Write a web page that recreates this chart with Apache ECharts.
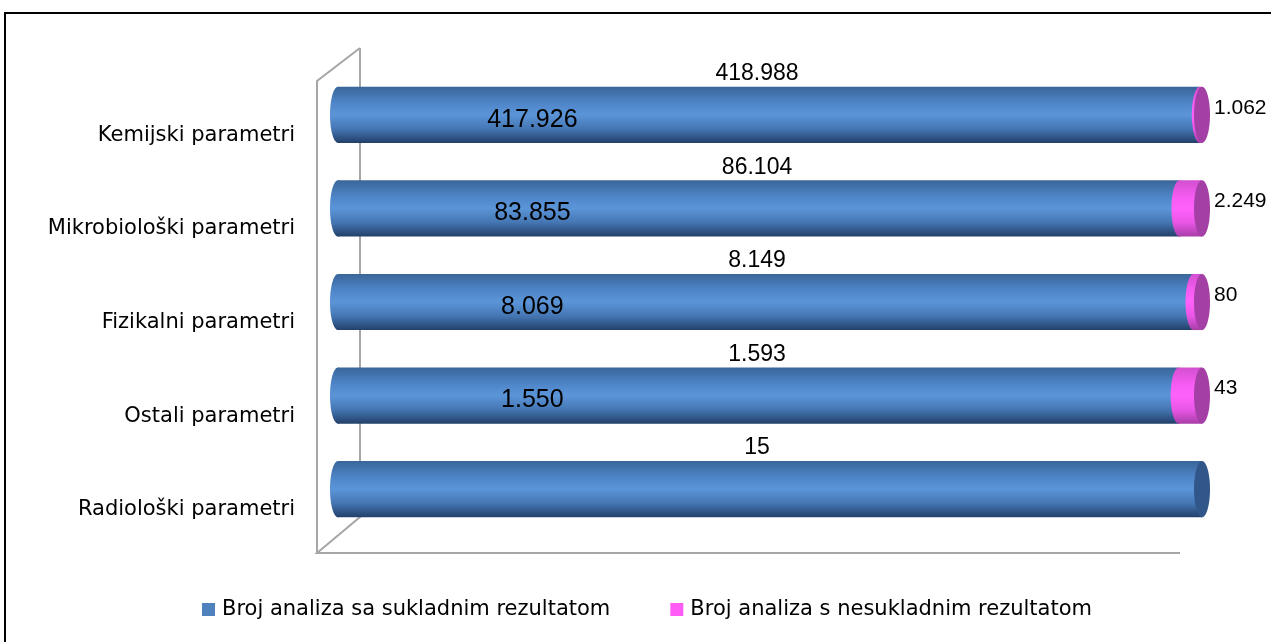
<!DOCTYPE html>
<html>
<head>
<meta charset="utf-8">
<script src="https://cdn.jsdelivr.net/npm/echarts@6/dist/echarts.min.js"></script>
<style>
  html, body { margin: 0; padding: 0; background: #fff; }
  #chart { width: 1271px; height: 642px; }
</style>
</head>
<body>
<div id="chart"></div>
<script>
// podaci
const categories = ['Kemijski parametri', 'Mikrobiološki parametri', 'Fizikalni parametri', 'Ostali parametri', 'Radiološki parametri'];
const sukladni = [417926, 83855, 8069, 1550, 15];
const nesukladni = [1062, 2249, 80, 43, 0];
const ukupno = [418988, 86104, 8149, 1593, 15];
const seriesNames = ['Broj analiza sa sukladnim rezultatom', 'Broj analiza s nesukladnim rezultatom'];

const FONT = 'DejaVu Sans';
const NUMFONT = 'Liberation Sans';

function fmt(n) {
  return String(n).replace(/\B(?=(\d{3})+(?!\d))/g, '.');
}

// 100% stacked -> udjeli
const blueData = sukladni.map((v, i) => [0, v / ukupno[i], i]);
const pinkData = nesukladni.map((v, i) => [sukladni[i] / ukupno[i], 1, i]);

function blueGrad() {
  return new echarts.graphic.LinearGradient(0, 0, 0, 1, [
    { offset: 0, color: '#3a6599' },
    { offset: 0.3, color: '#4f86c9' },
    { offset: 0.5, color: '#5b95d8' },
    { offset: 0.75, color: '#4576b3' },
    { offset: 1, color: '#22406a' }
  ]);
}
function pinkGrad() {
  return new echarts.graphic.LinearGradient(0, 0, 0, 1, [
    { offset: 0, color: '#d24fd0' },
    { offset: 0.3, color: '#f75cf2' },
    { offset: 0.5, color: '#ff62fa' },
    { offset: 0.75, color: '#e956e6' },
    { offset: 1, color: '#a83ea8' }
  ]);
}

const RX = 8;

const chart = echarts.init(document.getElementById('chart'));
chart.setOption({
  animation: false,
  grid: { left: 338, right: 69, top: 68, bottom: 106 },
  xAxis: { type: 'value', min: 0, max: 1, show: false },
  yAxis: {
    type: 'category',
    data: categories,
    inverse: true,
    axisLine: { show: false },
    axisTick: { show: false },
    splitLine: { show: false },
    axisLabel: { color: '#000', fontSize: 21, fontFamily: FONT, margin: 43, verticalAlign: 'top', padding: [10, 0, 0, 0] }
  },
  legend: {
    left: 197,
    top: 594,
    icon: 'rect',
    itemWidth: 13,
    itemHeight: 13,
    itemGap: 60,
    textStyle: { color: '#000', fontSize: 21, fontFamily: FONT, padding: [0, 0, 0, 2] },
    data: seriesNames
  },
  graphic: [
    { type: 'rect', shape: { x: 5, y: 13, width: 1400, height: 800 }, style: { fill: 'none', stroke: '#000', lineWidth: 2 }, z: -1 },
    { type: 'polyline', shape: { points: [[360, 48], [360, 517], [317, 553], [1180, 553]] }, style: { fill: 'none', stroke: '#a6a6a6', lineWidth: 2 }, z: -1 },
    { type: 'polyline', shape: { points: [[360, 48], [317, 81], [317, 553]] }, style: { fill: 'none', stroke: '#a6a6a6', lineWidth: 2 }, z: -1 }
  ],
  series: [
    {
      name: seriesNames[0],
      type: 'custom',
      clip: false,
      itemStyle: { color: '#4f81bd' },
      encode: { x: [0, 1], y: 2 },
      data: blueData,
      renderItem: function (params, api) {
        const i = api.value(2);
        const p0 = api.coord([api.value(0), i]);
        const p1 = api.coord([api.value(1), i]);
        const h = api.size([0, 1])[1] * 0.6;
        const cy = p0[1];
        const children = [
          { type: 'ellipse', shape: { cx: p0[0], cy: cy, rx: RX, ry: h / 2 }, style: { fill: blueGrad() } },
          { type: 'rect', shape: { x: p0[0], y: cy - h / 2, width: p1[0] - p0[0], height: h }, style: { fill: blueGrad() } }
        ];
        if (nesukladni[i] === 0) {
          children.push({ type: 'ellipse', shape: { cx: p1[0], cy: cy, rx: RX, ry: h / 2 }, style: { fill: '#31578a' } });
        }
        const mid = api.coord([0.485, i]);
        children.push({
          type: 'text',
          style: { text: fmt(ukupno[i]), x: mid[0], y: cy - h / 2 - 13, align: 'center', verticalAlign: 'middle', fill: '#000', fontSize: 23, fontFamily: NUMFONT }
        });
        if (sukladni[i] !== ukupno[i]) {
          const lp = api.coord([0.225, i]);
          children.push({
            type: 'text',
            style: { text: fmt(sukladni[i]), x: lp[0], y: cy + 5, align: 'center', verticalAlign: 'middle', fill: '#000', fontSize: 25, fontFamily: NUMFONT }
          });
        }
        return { type: 'group', children: children };
      }
    },
    {
      name: seriesNames[1],
      type: 'custom',
      clip: false,
      itemStyle: { color: '#ff5cf5' },
      encode: { x: [0, 1], y: 2 },
      data: pinkData,
      renderItem: function (params, api) {
        const i = api.value(2);
        if (nesukladni[i] === 0) return { type: 'group', children: [] };
        const p0 = api.coord([api.value(0), i]);
        const p1 = api.coord([api.value(1), i]);
        const h = api.size([0, 1])[1] * 0.6;
        const cy = p0[1];
        return {
          type: 'group',
          children: [
            { type: 'ellipse', shape: { cx: p0[0], cy: cy, rx: RX, ry: h / 2 }, style: { fill: pinkGrad() } },
            { type: 'rect', shape: { x: p0[0], y: cy - h / 2, width: p1[0] - p0[0], height: h }, style: { fill: pinkGrad() } },
            { type: 'ellipse', shape: { cx: p1[0], cy: cy, rx: RX, ry: h / 2 }, style: { fill: '#a43fa6' } },
            {
              type: 'text',
              style: { text: fmt(nesukladni[i]), x: p1[0] + RX + 4, y: cy - 7, align: 'left', verticalAlign: 'middle', fill: '#000', fontSize: 21, fontFamily: NUMFONT }
            }
          ]
        };
      }
    }
  ]
});
</script>
</body>
</html>
